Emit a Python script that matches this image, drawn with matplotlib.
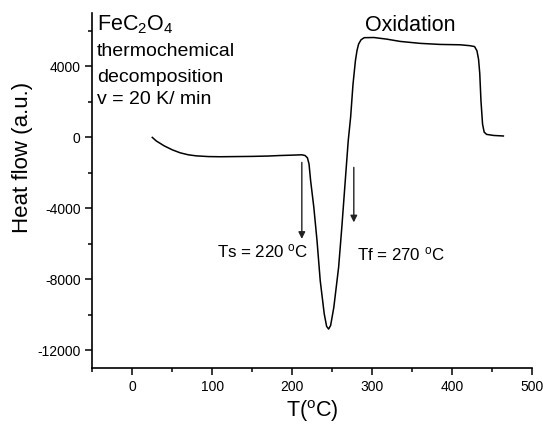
import numpy as np
import matplotlib.pyplot as plt
from matplotlib.ticker import MultipleLocator

plt.rcParams['font.family'] = ['Liberation Sans', 'DejaVu Sans']
plt.rcParams['mathtext.fontset'] = 'custom'
plt.rcParams['mathtext.rm'] = 'Liberation Sans'
plt.rcParams['mathtext.it'] = 'Liberation Sans'
plt.rcParams['mathtext.default'] = 'regular'
plt.rcParams['axes.unicode_minus'] = False

# Curva DSC (T en °C, flujo de calor en u.a.)
temp = [25, 30, 40, 50, 60, 70, 80, 95, 110, 130, 150, 170, 185, 200, 212,
        216, 219, 221, 223, 227, 231, 235, 240, 243, 245.5, 248, 252, 258,
        262, 266, 270, 273, 276, 279, 281, 283, 286, 290, 302, 318, 335, 360,
        385, 410, 422, 428, 431, 433, 434.5, 436, 438, 440, 443, 452, 464]
heat = [0, -200, -480, -700, -870, -980, -1040, -1080, -1090, -1080, -1070,
        -1050, -1020, -1000, -980, -1020, -1150, -1500, -2440, -3940, -5820,
        -8070, -9940, -10650, -10800, -10600, -9580, -7320, -5070, -2630,
        -200, 1130, 3000, 4320, 4900, 5260, 5500, 5620, 5630, 5540, 5410,
        5300, 5240, 5220, 5170, 5120, 4880, 4400, 3600, 2070, 750, 300, 170,
        110, 80]

# Flechas: (T, inicio, punta)
arrow_t = [212, 277]
arrow_start = [-1410, -1690]
arrow_end = [-5720, -4790]

fig = plt.figure(figsize=(5.43, 4.26), dpi=100)
ax = fig.add_axes([0.170, 0.136, 0.810, 0.833])

ax.plot(temp, heat, color='black', linewidth=1.1)

for t, y0, y1 in zip(arrow_t, arrow_start, arrow_end):
    ax.annotate('', xy=(t, y1), xytext=(t, y0),
                arrowprops=dict(arrowstyle='-|>', color='#222222', lw=1,
                                mutation_scale=10, shrinkA=0, shrinkB=0))

ax.text(106, -6760, 'Ts = 220 $^o$C', fontsize=12.2)
ax.text(281, -6946, 'Tf = 270 $^o$C', fontsize=12.2)
ax.text(291, 5970, 'Oxidation', fontsize=15.5)

ax.text(-44, 6050, 'FeC$_2$O$_4$', fontsize=15.5)
ax.text(-44, 4600, 'thermochemical', fontsize=14)
ax.text(-44, 3100, 'decomposition', fontsize=14)
ax.text(-44, 1880, 'v = 20 K/ min', fontsize=14)

ax.set_xlim(-50, 500)
ax.set_ylim(-13000, 7000)
ax.xaxis.set_major_locator(MultipleLocator(100))
ax.xaxis.set_minor_locator(MultipleLocator(50))
ax.yaxis.set_major_locator(MultipleLocator(4000))
ax.yaxis.set_minor_locator(MultipleLocator(2000))

ax.spines['top'].set_visible(False)
ax.spines['right'].set_visible(False)
ax.spines['left'].set_linewidth(1.2)
ax.spines['bottom'].set_linewidth(1.2)
ax.tick_params(which='major', direction='out', length=5, width=1.1, labelsize=10)
ax.tick_params(which='minor', direction='out', length=3, width=1.1)

ax.set_xlabel('T($^o$C)', fontsize=15.5)
ax.set_ylabel('Heat flow (a.u.)', fontsize=16)
ax.xaxis.set_label_coords(0.5, -0.085)
ax.yaxis.set_label_coords(-0.134, 0.594)

fig.savefig('out.png', dpi=100)
